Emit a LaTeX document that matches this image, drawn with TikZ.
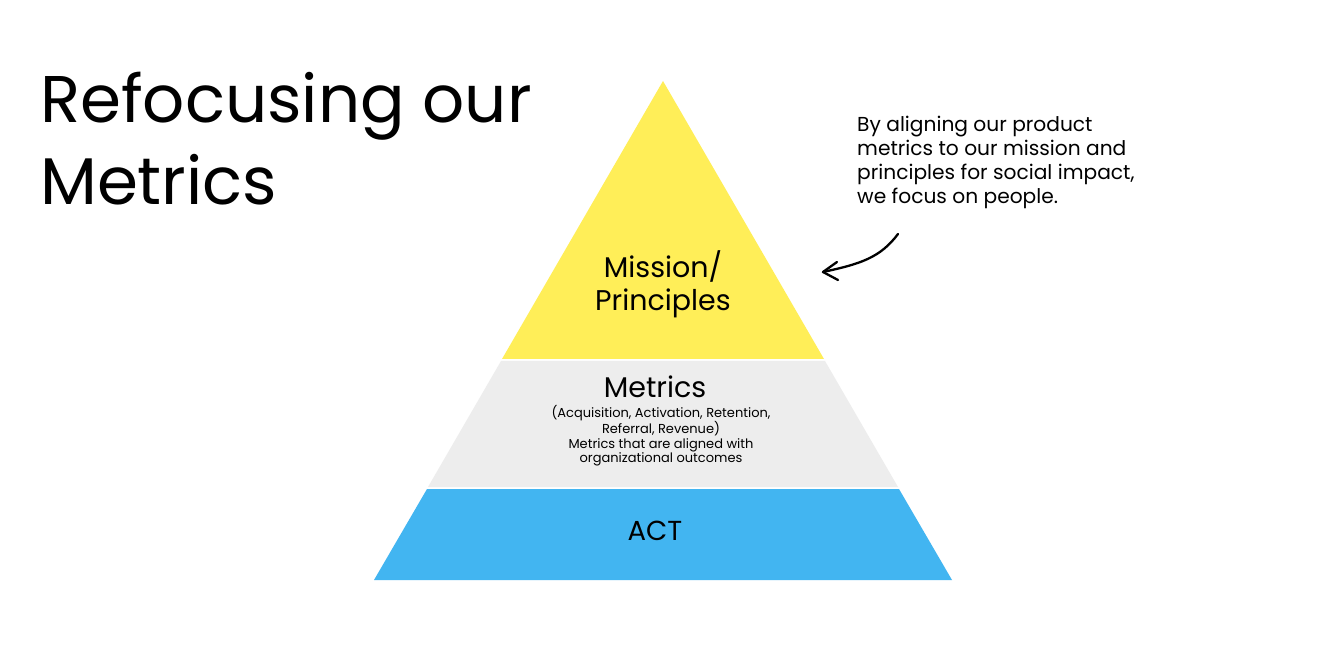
\documentclass[tikz,border=0pt]{standalone}
\usepackage{fontspec}
\setmainfont{Poppins}
\definecolor{pyellow}{HTML}{FFEE58}
\definecolor{pgrey}{HTML}{EDEDED}
\definecolor{pblue}{HTML}{42B5F1}
\tikzset{
  lbl/.style={align=center, inner sep=0pt, text=black},
  title/.style={anchor=base west, inner sep=0pt, font=\fontsize{66}{82}\selectfont},
  pen/.style={line width=2.3pt, line cap=round, line join=round},
}
\begin{document}
\begin{tikzpicture}[x=1pt,y=-1pt]
\useasboundingbox (0,0) rectangle (1318,660);
\fill[white] (0,0) rectangle (1318,660);
% layers
\fill[pyellow] (663,81) -- (824,359) -- (502,359) -- cycle;
\fill[pgrey] (501,361) -- (825,361) -- (898,487) -- (428,487) -- cycle;
\fill[pblue] (427,489) -- (899,489) -- (952,580) -- (374,580) -- cycle;
% title
\node[title] (t1) at (40,123) {Refocusing our};
\node[title] (t2) at (40,205) {Metrics};
% labels
\node[lbl, font=\fontsize{28.5}{33}\selectfont, anchor=base] (mission) at (663,311) {Mission/\\Principles};
\node[lbl, font=\fontsize{28.5}{30}\selectfont, anchor=base] (metrics) at (655,398) {Metrics};
\node[lbl, font=\fontsize{13}{14.5}\selectfont, anchor=north] (mdesc) at (661,405) {(Acquisition, Activation, Retention,\\Referral, Revenue)\\Metrics that are aligned with\\organizational outcomes};
\node[lbl, font=\fontsize{27.5}{30}\selectfont] (act) at (655,531) {ACT};
% note
\node[lbl, align=left, anchor=north west, font=\fontsize{20.2}{24}\selectfont] (note) at (857,116) {By aligning our product\\metrics to our mission and\\principles for social impact,\\we focus on people.};
% arrow
\coordinate (a0) at (898,234);
\coordinate (tip) at (823,272);
\coordinate (b1) at (837,262);
\coordinate (b2) at (838,280);
\draw[pen] (a0) .. controls (880,258) and (860,264) .. (tip);
\draw[pen] (b1) -- (tip) -- (b2);
\end{tikzpicture}
\end{document}
